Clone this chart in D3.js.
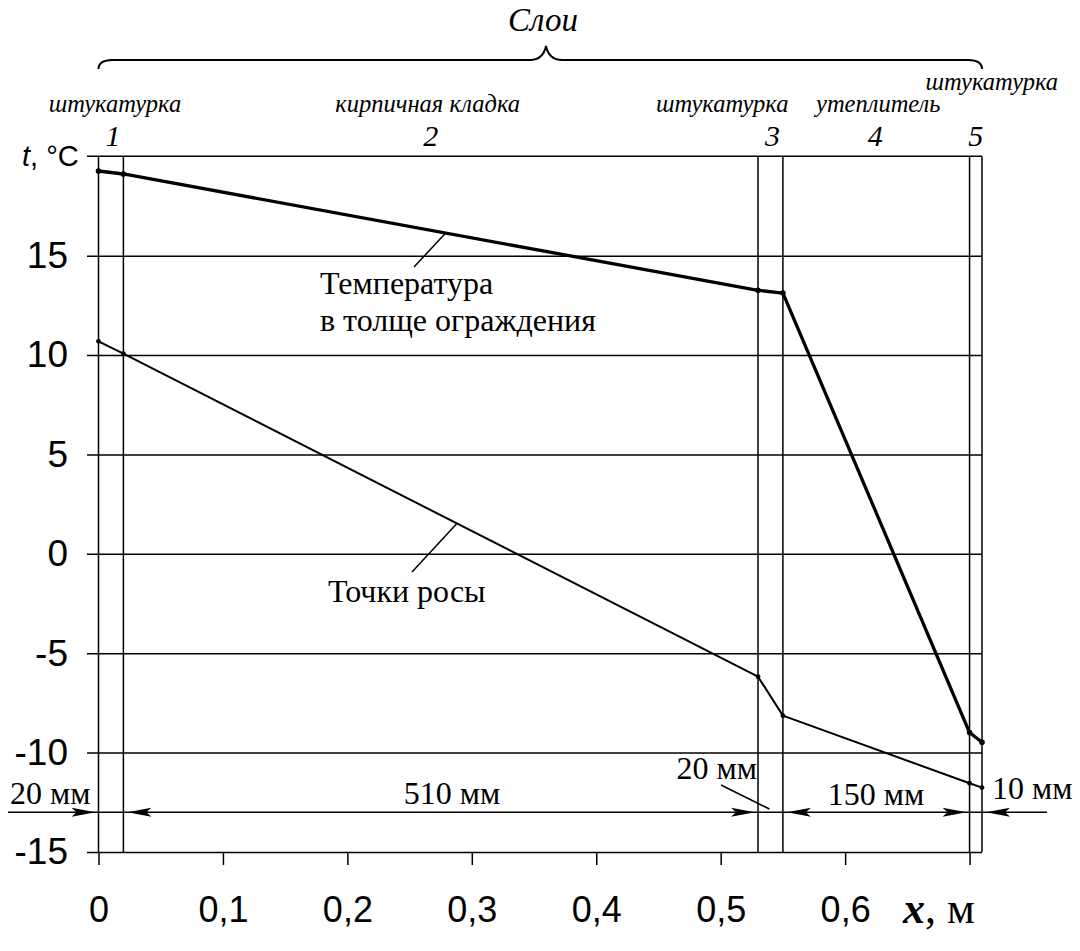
<!DOCTYPE html>
<html>
<head>
<meta charset="utf-8">
<script src="https://cdn.jsdelivr.net/npm/d3@7"></script>
<style>
  html, body { margin: 0; padding: 0; background: #fff; }
  svg { display: block; }
</style>
</head>
<body>
<script>
// ---------- data ----------
const layerNames = ["штукатурка", "кирпичная кладка", "штукатурка", "утеплитель", "штукатурка"];
const layerNumbers = ["1", "2", "3", "4", "5"];
const layerThickness = [0.02, 0.51, 0.02, 0.15, 0.01];       // m
const dimLabels = ["20 мм", "510 мм", "20 мм", "150 мм", "10 мм"];
const boundaryX = [0, 0.02, 0.53, 0.55, 0.70, 0.71];          // m
const tempValues = [19.26, 19.11, 13.26, 13.12, -8.99, -9.48];  // °C
const dewValues = [10.69, 10.07, -6.18, -8.14, -11.54, -11.76]; // °C
const xTicks = [0, 0.1, 0.2, 0.3, 0.4, 0.5, 0.6, 0.7];
const xTickLabels = ["0", "0,1", "0,2", "0,3", "0,4", "0,5", "0,6", ""];
const yTicks = [-15, -10, -5, 0, 5, 10, 15];
const topTitle = "Слои";
const tempLabel = ["Температура", "в толще ограждения"];
const dewLabel = "Точки росы";

// ---------- layout ----------
const W = 1080, H = 951;
const x = d3.scaleLinear().domain([0, 0.71]).range([98.5, 982]);
const y = d3.scaleLinear().domain([-15, 20]).range([852, 156.3]);
const sans = "'Liberation Sans', Arial, sans-serif";
const serif = "'Liberation Serif', 'Times New Roman', serif";

const svg = d3.select("body").append("svg").attr("width", W).attr("height", H);

// top border (t = 20)
svg.append("line").attr("x1", 87).attr("x2", x(0.71))
  .attr("y1", y(20)).attr("y2", y(20)).attr("stroke", "#000").attr("stroke-width", 1.5);

// y axis with gridlines
const yAxis = d3.axisLeft(y).tickValues(yTicks).tickSize(-(x(0.71) - 87)).tickPadding(19)
  .tickFormat(d => String(d));
const yg = svg.append("g").attr("transform", "translate(87,0)").call(yAxis);
yg.select(".domain").remove();
yg.selectAll(".tick line").attr("stroke", "#000").attr("stroke-width", 1.5);
yg.selectAll(".tick text").attr("font-size", 37).attr("fill", "#000").attr("font-family", sans);

// x axis
const xAxis = d3.axisBottom(x).tickValues(xTicks).tickSize(13).tickPadding(31)
  .tickFormat((d, i) => xTickLabels[i]);
const xg = svg.append("g").attr("transform", `translate(0,${y(-15)})`).call(xAxis);
xg.select(".domain").remove();
xg.selectAll(".tick line").attr("stroke", "#000").attr("stroke-width", 1.5);
xg.selectAll(".tick text").attr("font-size", 36).attr("fill", "#000").attr("font-family", sans);

// layer boundary lines
svg.append("g").selectAll("line").data(boundaryX).join("line")
  .attr("x1", d => x(d)).attr("x2", d => x(d))
  .attr("y1", y(20)).attr("y2", y(-15))
  .attr("stroke", "#000").attr("stroke-width", 1.5);

// axis titles
const tt = svg.append("text").attr("x", 22).attr("y", 166)
  .attr("font-family", sans).attr("font-size", 29);
tt.append("tspan").attr("font-style", "italic").text("t");
tt.append("tspan").text(", °C");

const xt = svg.append("text").attr("x", 903).attr("y", 923)
  .attr("font-family", serif).attr("font-size", 44);
xt.append("tspan").attr("font-style", "italic").attr("font-weight", "bold").text("x");
xt.append("tspan").text(", м");

// curves
const line = d3.line().x(d => x(d[0])).y(d => y(d[1]));
const tempPts = boundaryX.map((b, i) => [b, tempValues[i]]);
const dewPts = boundaryX.map((b, i) => [b, dewValues[i]]);

svg.append("path").datum(tempPts).attr("d", line).attr("fill", "none")
  .attr("stroke", "#000").attr("stroke-width", 3.3).attr("stroke-linejoin", "round");
svg.append("path").datum(dewPts).attr("d", line).attr("fill", "none")
  .attr("stroke", "#000").attr("stroke-width", 2).attr("stroke-linejoin", "round");
svg.append("g").selectAll("circle").data(tempPts).join("circle")
  .attr("cx", d => x(d[0])).attr("cy", d => y(d[1])).attr("r", 2.8).attr("fill", "#000");
svg.append("g").selectAll("circle").data(dewPts).join("circle")
  .attr("cx", d => x(d[0])).attr("cy", d => y(d[1])).attr("r", 2.4).attr("fill", "#000");

// interpolation on the curves for label leaders
function interp(pts, xv) {
  for (let i = 0; i < pts.length - 1; i++) {
    if (xv >= pts[i][0] && xv <= pts[i + 1][0]) {
      const t = (xv - pts[i][0]) / (pts[i + 1][0] - pts[i][0]);
      return pts[i][1] + t * (pts[i + 1][1] - pts[i][1]);
    }
  }
  return pts[pts.length - 1][1];
}

// temperature label + leader
const tx = 0.279;
svg.append("line").attr("x1", 414).attr("y1", 267)
  .attr("x2", x(tx)).attr("y2", y(interp(tempPts, tx)))
  .attr("stroke", "#000").attr("stroke-width", 1.5);
svg.append("text").attr("x", 320).attr("y", 294).attr("font-family", serif).attr("font-size", 32)
  .text(tempLabel[0]);
svg.append("text").attr("x", 320).attr("y", 331).attr("font-family", serif).attr("font-size", 32)
  .text(tempLabel[1]);

// dew label + leader
const dx = 0.288;
svg.append("line").attr("x1", 412).attr("y1", 572)
  .attr("x2", x(dx)).attr("y2", y(interp(dewPts, dx)))
  .attr("stroke", "#000").attr("stroke-width", 1.5);
svg.append("text").attr("x", 328).attr("y", 602).attr("font-family", serif).attr("font-size", 32)
  .text(dewLabel);

// ---------- top brace ----------
const bl = x(0), br = x(0.71), bm = 546, by = 60;
svg.append("path")
  .attr("d", `M${bl},69 Q${bl},${by} ${bl + 14},${by} L${bm - 16},${by} Q${bm - 3},${by} ${bm},${by - 14}` +
             ` Q${bm + 3},${by} ${bm + 16},${by} L${br - 14},${by} Q${br},${by} ${br},69`)
  .attr("fill", "none").attr("stroke", "#000").attr("stroke-width", 2);
svg.append("text").attr("x", 543).attr("y", 31).attr("text-anchor", "middle")
  .attr("font-family", serif).attr("font-style", "italic").attr("font-size", 33).text(topTitle);

// layer names and numbers
const starts = boundaryX.slice(0, -1);
const centers = starts.map((s, i) => s + layerThickness[i] / 2);
const nameLayout = [
  {anchor: "middle", dx: 4, y: 112},
  {anchor: "middle", dx: -13, y: 112},
  {anchor: "end", dx: 18, y: 112},
  {anchor: "middle", dx: 2, y: 112},
  {anchor: "middle", dx: 16, y: 90}
];
const numDx = [2, -10, 2, -1, 0];
svg.append("g").selectAll("text").data(layerNames).join("text")
  .attr("x", (d, i) => x(centers[i]) + nameLayout[i].dx)
  .attr("y", (d, i) => nameLayout[i].y)
  .attr("text-anchor", (d, i) => nameLayout[i].anchor)
  .attr("font-family", serif).attr("font-style", "italic").attr("font-size", 24.5)
  .text(d => d);
svg.append("g").selectAll("text").data(layerNumbers).join("text")
  .attr("x", (d, i) => x(centers[i]) + numDx[i])
  .attr("y", 146)
  .attr("text-anchor", "middle")
  .attr("font-family", serif).attr("font-style", "italic").attr("font-size", 30)
  .text(d => d);

// ---------- dimension line ----------
const dimY = y(-13);
svg.append("line").attr("x1", 8).attr("x2", 1047).attr("y1", dimY).attr("y2", dimY)
  .attr("stroke", "#000").attr("stroke-width", 1.5);
const rightTips = [0, 0.53, 0.70];
const leftTips = [0.02, 0.55, 0.71];
function arrow(tipX, dir) { // dir = +1 points right, -1 points left
  const L = 24, h = 4.5, n = 5;
  const bx = tipX - dir * L;
  return `M${tipX},${dimY} L${bx},${dimY - h} L${bx + dir * n},${dimY} L${bx},${dimY + h} Z`;
}
svg.append("g").selectAll("path").data(rightTips).join("path")
  .attr("d", d => arrow(x(d) - 3, 1)).attr("fill", "#000");
svg.append("g").selectAll("path").data(leftTips).join("path")
  .attr("d", d => arrow(x(d) + 4, -1)).attr("fill", "#000");

const dimLayout = [
  {x: 10, y: 804, anchor: "start"},
  {x: 452, y: 804, anchor: "middle"},
  {x: 757, y: 779, anchor: "end"},
  {x: 876, y: 805, anchor: "middle"},
  {x: 992, y: 799, anchor: "start"}
];
svg.append("g").selectAll("text").data(dimLabels).join("text")
  .attr("x", (d, i) => dimLayout[i].x).attr("y", (d, i) => dimLayout[i].y)
  .attr("text-anchor", (d, i) => dimLayout[i].anchor)
  .attr("font-family", serif).attr("font-size", 32).text(d => d);
// leader for the 20 mm (layer 3) label
svg.append("line").attr("x1", 721).attr("y1", 785).attr("x2", (x(0.53) + x(0.55)) / 2 - 1).attr("y2", 809)
  .attr("stroke", "#000").attr("stroke-width", 1.5);
</script>
</body>
</html>
